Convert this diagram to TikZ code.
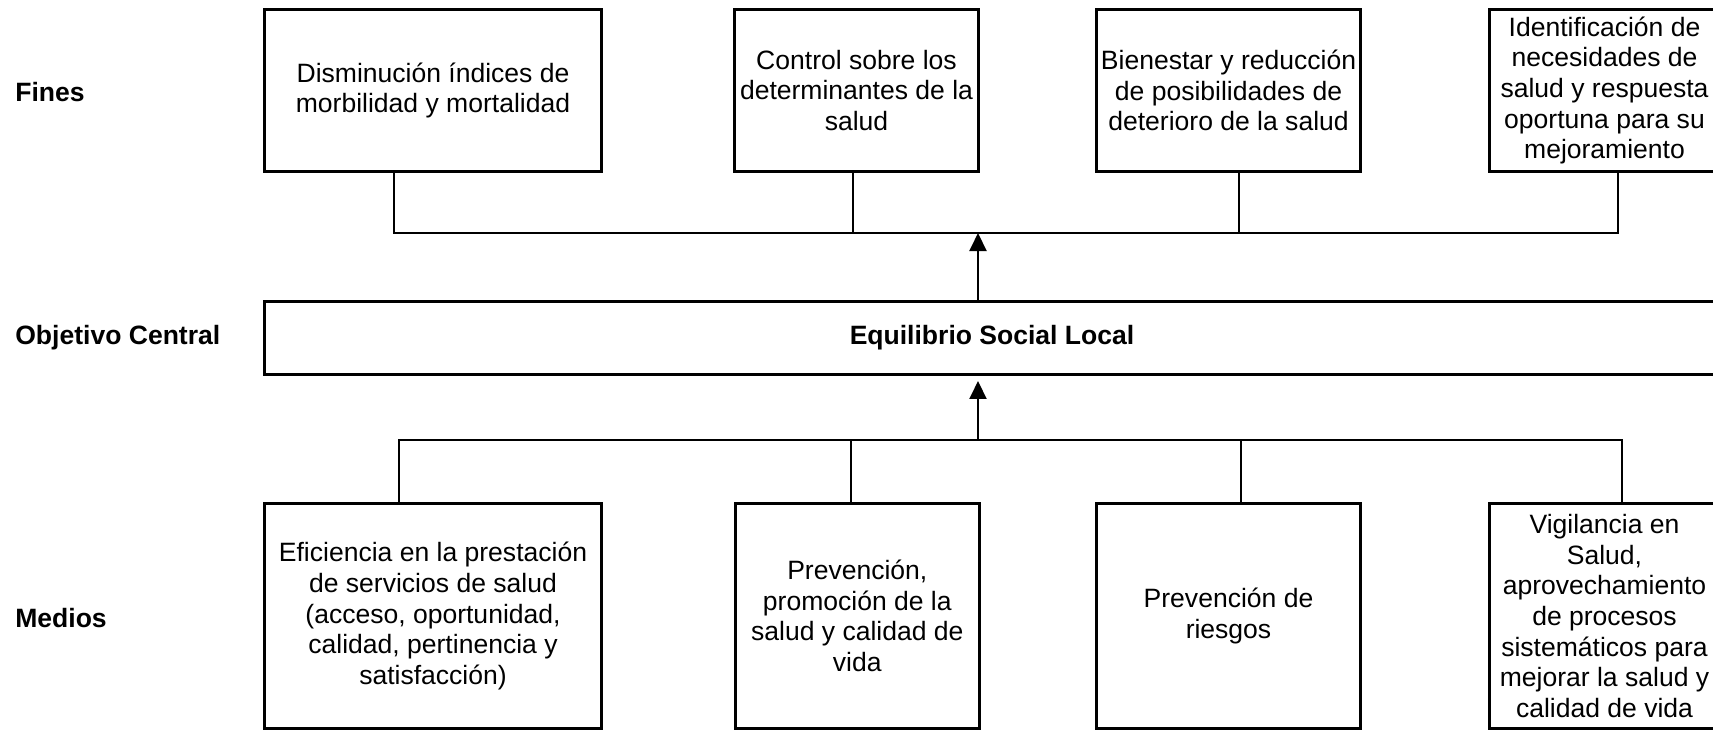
\documentclass[tikz,border=0pt]{standalone}
\usepackage{fontspec}
\setmainfont{Liberation Sans}
\usepackage{tikz}
\usetikzlibrary{arrows.meta, positioning, calc}

\begin{document}
\begin{tikzpicture}[
      x=0.02cm, y=-0.02cm,
      box/.style={draw=black, line width=0.06cm, inner sep=0pt, align=center,
      font=\fontsize{15.1pt}{17.4pt}\selectfont},
      fin/.style={box, minimum height=3.26cm},
      medio/.style={box, minimum height=4.5cm},
      lbl/.style={anchor=west, inner sep=0pt, font=\fontsize{15.1pt}{17.4pt}\selectfont\bfseries},
      link/.style={draw=black, line width=0.04cm},
      arrow/.style={link, -{Triangle[length=0.36cm, width=0.34cm]}}
    ]
    \useasboundingbox (0,0) rectangle (1713,730);

    % etiquetas de nivel
    \node[lbl] (fines) at (15,92) {Fines};
    \node[lbl] (objetivo) at (15,338) {Objetivo Central};
    \node[lbl] (medios) at (15,618) {Medios};

    % fines
    \node[fin, minimum width=6.76cm] (morbilidad) at (433,90.5) {Disminución índices de\\morbilidad y mortalidad};
    \node[fin, minimum width=4.9cm] (determinantes) at (856.5,90.5) {Control sobre los\\determinantes de la\\salud};
    \node[fin, minimum width=5.3cm] (bienestar) at (1228.5,90.5) {Bienestar y reducción\\de posibilidades de\\deterioro de la salud};
    \node[fin, minimum width=4.62cm] (necesidades) at (1604.5,90.5) {Identificación de\\necesidades de\\salud y respuesta\\oportuna para su\\mejoramiento};

    % objetivo central
    \node[box, minimum width=29.12cm, minimum height=1.48cm, font=\fontsize{15.1pt}{17.4pt}\selectfont\bfseries]
      (equilibrio) at (992,338) {Equilibrio Social Local};

    % medios
    \node[medio, minimum width=6.76cm] (eficiencia) at (433,616) {Eficiencia en la prestación\\de servicios de salud\\(acceso, oportunidad,\\calidad, pertinencia y\\satisfacción)};
    \node[medio, minimum width=4.87cm] (promocion) at (857.3,616) {Prevención,\\promoción de la\\salud y calidad de\\vida};
    \node[medio, minimum width=5.3cm] (riesgos) at (1228.5,616) {Prevención de\\riesgos};
    \node[medio, minimum width=4.62cm] (vigilancia) at (1604.5,616) {Vigilancia en\\Salud,\\aprovechamiento\\de procesos\\sistemáticos para\\mejorar la salud y\\calidad de vida};

    % barras de union
    \coordinate (ta) at (394,233);
    \coordinate (tb) at (853,233);
    \coordinate (tc) at (1239,233);
    \coordinate (td) at (1618,233);
    \coordinate (tm) at (978,233);
    \coordinate (ba) at (399,440);
    \coordinate (bb) at (851,440);
    \coordinate (bc) at (1241,440);
    \coordinate (bd) at (1622,440);
    \coordinate (bm) at (978,440);

    \draw[link] (ta |- morbilidad.south) -- (ta) -- (td) -- (td |- necesidades.south);
    \draw[link] (tb |- determinantes.south) -- (tb);
    \draw[link] (tc |- bienestar.south) -- (tc);
    \draw[arrow] (tm |- equilibrio.north) -- (tm);

    \draw[link] (ba |- eficiencia.north) -- (ba) -- (bd) -- (bd |- vigilancia.north);
    \draw[link] (bb |- promocion.north) -- (bb);
    \draw[link] (bc |- riesgos.north) -- (bc);
    \draw[arrow, shorten >=0.09cm] (bm) -- (bm |- equilibrio.south);
  \end{tikzpicture}
\end{document}
